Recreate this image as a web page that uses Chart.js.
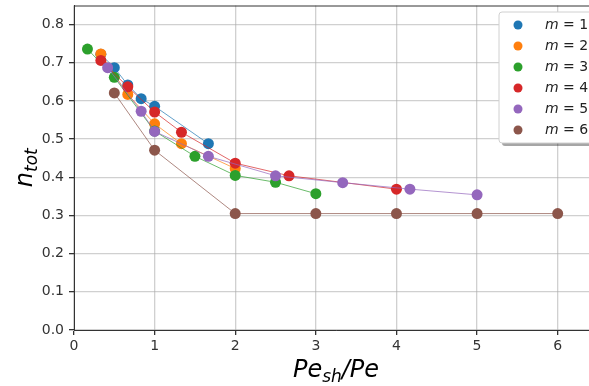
<!DOCTYPE html>
<html>
<head>
<meta charset="utf-8">
<script src="https://cdn.jsdelivr.net/npm/chart.js@4.4.1/dist/chart.umd.min.js"></script>
<style>
  html, body { margin: 0; padding: 0; overflow: hidden; background: #fff; }
  #wrap { position: relative; width: 620px; height: 386px; }
</style>
</head>
<body>
<div id="wrap"><canvas id="myChart"></canvas></div>
<script>
// values, one pair of arrays per m
const mLabels = ['1', '2', '3', '4', '5', '6'];
const mColors = ['#1f77b4', '#ff7f0e', '#2ca02c', '#d62728', '#9467bd', '#8c564b'];

const m1X = [0.333, 0.5, 0.667, 0.833, 1.0, 1.667];
const m1Y = [0.722, 0.687, 0.642, 0.606, 0.586, 0.488];

const m2X = [0.333, 0.667, 1.0, 1.333, 2.0];
const m2Y = [0.723, 0.617, 0.540, 0.488, 0.423];

const m3X = [0.167, 0.5, 1.0, 1.5, 2.0, 2.5, 3.0];
const m3Y = [0.736, 0.662, 0.521, 0.455, 0.405, 0.387, 0.357];

const m4X = [0.333, 0.667, 1.0, 1.333, 2.0, 2.667, 4.0];
const m4Y = [0.706, 0.637, 0.571, 0.518, 0.437, 0.404, 0.369];

const m5X = [0.417, 0.833, 1.0, 1.667, 2.5, 3.333, 4.167, 5.0];
const m5Y = [0.687, 0.573, 0.520, 0.455, 0.404, 0.386, 0.369, 0.354];

const m6X = [0.5, 1.0, 2.0, 3.0, 4.0, 5.0, 6.0];
const m6Y = [0.621, 0.471, 0.305, 0.305, 0.305, 0.305, 0.305];

const xTicks = [0, 1, 2, 3, 4, 5, 6];
const yTicks = [0.0, 0.1, 0.2, 0.3, 0.4, 0.5, 0.6, 0.7, 0.8];

const allX = [m1X, m2X, m3X, m4X, m5X, m6X];
const allY = [m1Y, m2Y, m3Y, m4Y, m5Y, m6Y];

function hexA(hex, a) {
    const n = parseInt(hex.slice(1), 16);
    return 'rgba(' + (n >> 16) + ',' + ((n >> 8) & 255) + ',' + (n & 255) + ',' + a + ')';
}

const datasets = [];
for (let i = 0; i < allX.length; i++) {
    const pts = [];
    for (let j = 0; j < allX[i].length; j++) {
        pts.push({x: allX[i][j], y: allY[i][j]});
    }
    datasets.push({
        label: 'm = ' + mLabels[i],
        data: pts,
        showLine: true,
        borderColor: hexA(mColors[i], 0.7),
        borderWidth: 1,
        backgroundColor: mColors[i],
        pointBackgroundColor: mColors[i],
        pointBorderWidth: 0,
        pointRadius: 5.5,
        order: allX.length - i
    });
}

const FONT = '"DejaVu Sans", sans-serif';

// axis titles with subscripts, top spine, legend box
const extras = {
    id: 'extras',
    afterDraw(chart) {
        const ctx = chart.ctx;
        const a = chart.chartArea;
        ctx.save();

        // top spine
        ctx.strokeStyle = '#333';
        ctx.lineWidth = 1;
        ctx.beginPath();
        ctx.moveTo(a.left, a.top + 0.5);
        ctx.lineTo(a.right, a.top + 0.5);
        ctx.stroke();

        ctx.fillStyle = '#000';
        ctx.textBaseline = 'alphabetic';
        ctx.textAlign = 'left';
        const big = 'italic 24px ' + FONT;
        const small = 'italic 17px ' + FONT;

        // x title: Pe_sh/Pe
        ctx.font = big;
        const w1 = ctx.measureText('Pe').width;
        const w3 = ctx.measureText('/Pe').width;
        ctx.font = small;
        const w2 = ctx.measureText('sh').width;
        let x = (a.left + a.right) / 2 - (w1 + w2 + w3) / 2;
        const by = 377;
        ctx.font = big;
        ctx.fillText('Pe', x, by);
        ctx.font = small;
        ctx.fillText('sh', x + w1, by + 5);
        ctx.font = big;
        ctx.fillText('/Pe', x + w1 + w2, by);

        // y title: n_tot
        ctx.save();
        ctx.translate(32, (a.top + a.bottom) / 2);
        ctx.rotate(-Math.PI / 2);
        ctx.font = big;
        const n1 = ctx.measureText('n').width;
        ctx.font = small;
        const n2 = ctx.measureText('tot').width;
        const sx = -(n1 + n2) / 2;
        ctx.font = big;
        ctx.fillText('n', sx, 0);
        ctx.font = small;
        ctx.fillText('tot', sx + n1, 5);
        ctx.restore();

        // legend
        const lx = 499, ly = 12, lw = 93, lh = 131;
        ctx.fillStyle = 'rgba(0,0,0,0.35)';
        ctx.beginPath();
        ctx.roundRect(lx + 3, ly + 3, lw, lh, 3);
        ctx.fill();
        ctx.fillStyle = '#fff';
        ctx.strokeStyle = '#d0d0d0';
        ctx.beginPath();
        ctx.roundRect(lx, ly, lw, lh, 3);
        ctx.fill();
        ctx.stroke();
        for (let i = 0; i < mLabels.length; i++) {
            const ry = 25 + i * 21;
            ctx.fillStyle = mColors[i];
            ctx.beginPath();
            ctx.arc(518, ry, 4.5, 0, Math.PI * 2);
            ctx.fill();
            ctx.fillStyle = '#222';
            ctx.textBaseline = 'middle';
            ctx.font = 'italic 14px ' + FONT;
            ctx.fillText('m', 545, ry);
            const mw = ctx.measureText('m').width;
            ctx.font = '14px ' + FONT;
            ctx.fillText(' = ' + mLabels[i], 545 + mw, ry);
        }
        ctx.restore();
    }
};

const ctx = document.getElementById('myChart').getContext('2d');
const myChart = new Chart(ctx, {
    type: 'scatter',
    data: {datasets: datasets},
    options: {
        responsive: true,
        maintainAspectRatio: false,
        animation: false,
        events: [],
        layout: {padding: {left: 0, top: 5, right: 22, bottom: 0}},
        plugins: {legend: {display: false}, tooltip: {enabled: false}},
        scales: {
            x: {
                type: 'linear',
                min: 0,
                max: 6.5,
                afterBuildTicks(scale) { scale.ticks = xTicks.map(v => ({value: v})); },
                afterFit(scale) { scale.height = 56; scale.paddingLeft = 0; scale.paddingRight = 0; },
                ticks: {
                    font: {family: FONT, size: 14},
                    color: '#333',
                    padding: 3,
                    maxRotation: 0,
                    callback: v => String(v)
                },
                grid: {color: 'rgba(170,170,170,0.55)', lineWidth: 1.3, tickLength: 5, tickColor: '#333'},
                border: {display: true, color: '#333', width: 1}
            },
            y: {
                type: 'linear',
                min: 0,
                max: 0.85,
                afterBuildTicks(scale) { scale.ticks = yTicks.map(v => ({value: v})); },
                afterFit(scale) { scale.width = 74; scale.paddingTop = 0; scale.paddingBottom = 0; },
                ticks: {
                    font: {family: FONT, size: 14},
                    color: '#333',
                    padding: 5,
                    callback: v => v.toFixed(1)
                },
                grid: {color: 'rgba(170,170,170,0.55)', lineWidth: 1.3, tickLength: 5, tickColor: '#333'},
                border: {display: true, color: '#333', width: 1}
            }
        }
    },
    plugins: [extras]
});
</script>
</body>
</html>
